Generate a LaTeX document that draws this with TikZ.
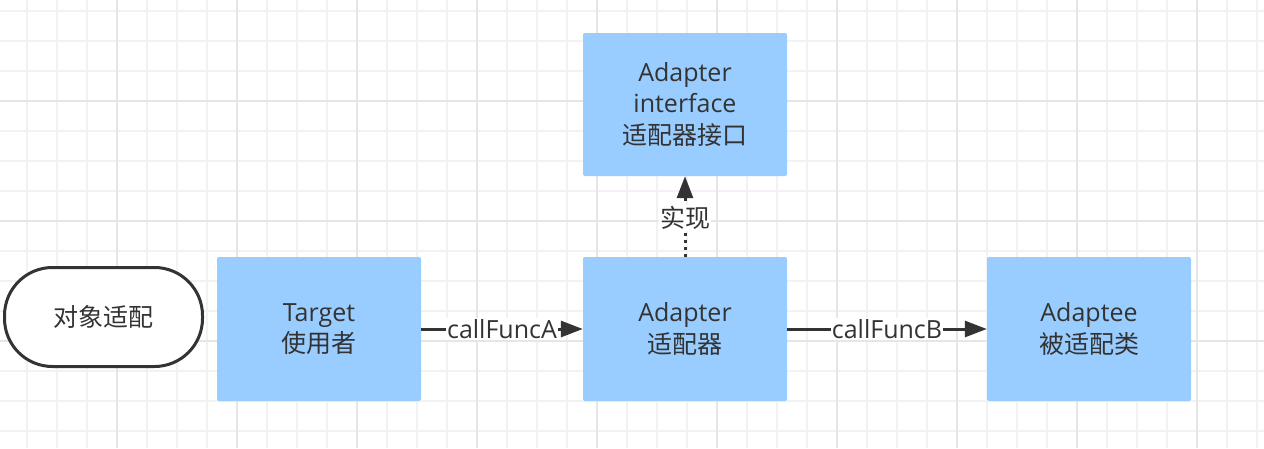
\documentclass[tikz,border=0pt]{standalone}
\usepackage{fontspec}
\setmainfont{Open Sans}
\newfontfamily\cjk{Noto Sans CJK SC}
\usetikzlibrary{arrows.meta}
\definecolor{boxblue}{HTML}{99CCFF}
\definecolor{ink}{HTML}{333333}
\definecolor{gridminor}{HTML}{F2F2F2}
\definecolor{gridmajor}{HTML}{E6E6E6}
\tikzset{
  procbox/.style={draw=none, fill=boxblue, rounded corners=2pt, minimum width=204pt, minimum height=144pt, align=center, text=ink, font=\fontsize{25pt}{31.5pt}\selectfont, inner sep=0pt},
  termbox/.style={draw=ink, line width=3pt, fill=white, rounded corners=48pt, minimum width=198pt, minimum height=99pt, align=center, text=ink, font=\fontsize{25pt}{31.5pt}\selectfont},
  conn/.style={draw=ink, line width=3pt, -{Triangle[length=22pt,width=16pt]}},
  dotconn/.style={conn, dash pattern=on 3pt off 4pt},
  elabel/.style={fill=white, text=ink, inner sep=1pt, font=\fontsize{25pt}{28pt}\selectfont}
}
\begin{document}
\begin{tikzpicture}[x=1pt,y=-1pt]
\useasboundingbox (0,0) rectangle (1264,448);
\fill[white] (0,0) rectangle (1264,448);
\foreach \x in {27,57,...,1264} \draw[gridminor, line width=2pt] (\x,0) -- (\x,448);
\foreach \y in {11,41,...,448} \draw[gridminor, line width=2pt] (0,\y) -- (1264,\y);
\foreach \x in {117,237,...,1264} \draw[gridmajor, line width=2pt] (\x,0) -- (\x,448);
\foreach \y in {101,221,...,448} \draw[gridmajor, line width=2pt] (0,\y) -- (1264,\y);

\node[termbox] (term) at (103.5,317) {\cjk 对象适配};
\node[procbox] (target) at (319,329) {Target\\{\cjk 使用者}};
\node[procbox] (adapter) at (685,329) {Adapter\\{\cjk 适配器}};
\node[procbox] (adaptee) at (1089,329) {Adaptee\\{\cjk 被适配类}};
\node[procbox, minimum height=143pt] (iface) at (685,104.5) {Adapter\\interface\\{\cjk 适配器接口}};

\draw[conn] (target.east) -- node[elabel] (la) {callFuncA} (adapter.west);
\draw[conn] (adapter.east) -- node[elabel] (lb) {callFuncB} (adaptee.west);
\draw[dotconn] (adapter.north) -- node[elabel, pos=0.48] (lc) {\cjk 实现} (iface.south);
\end{tikzpicture}
\end{document}
